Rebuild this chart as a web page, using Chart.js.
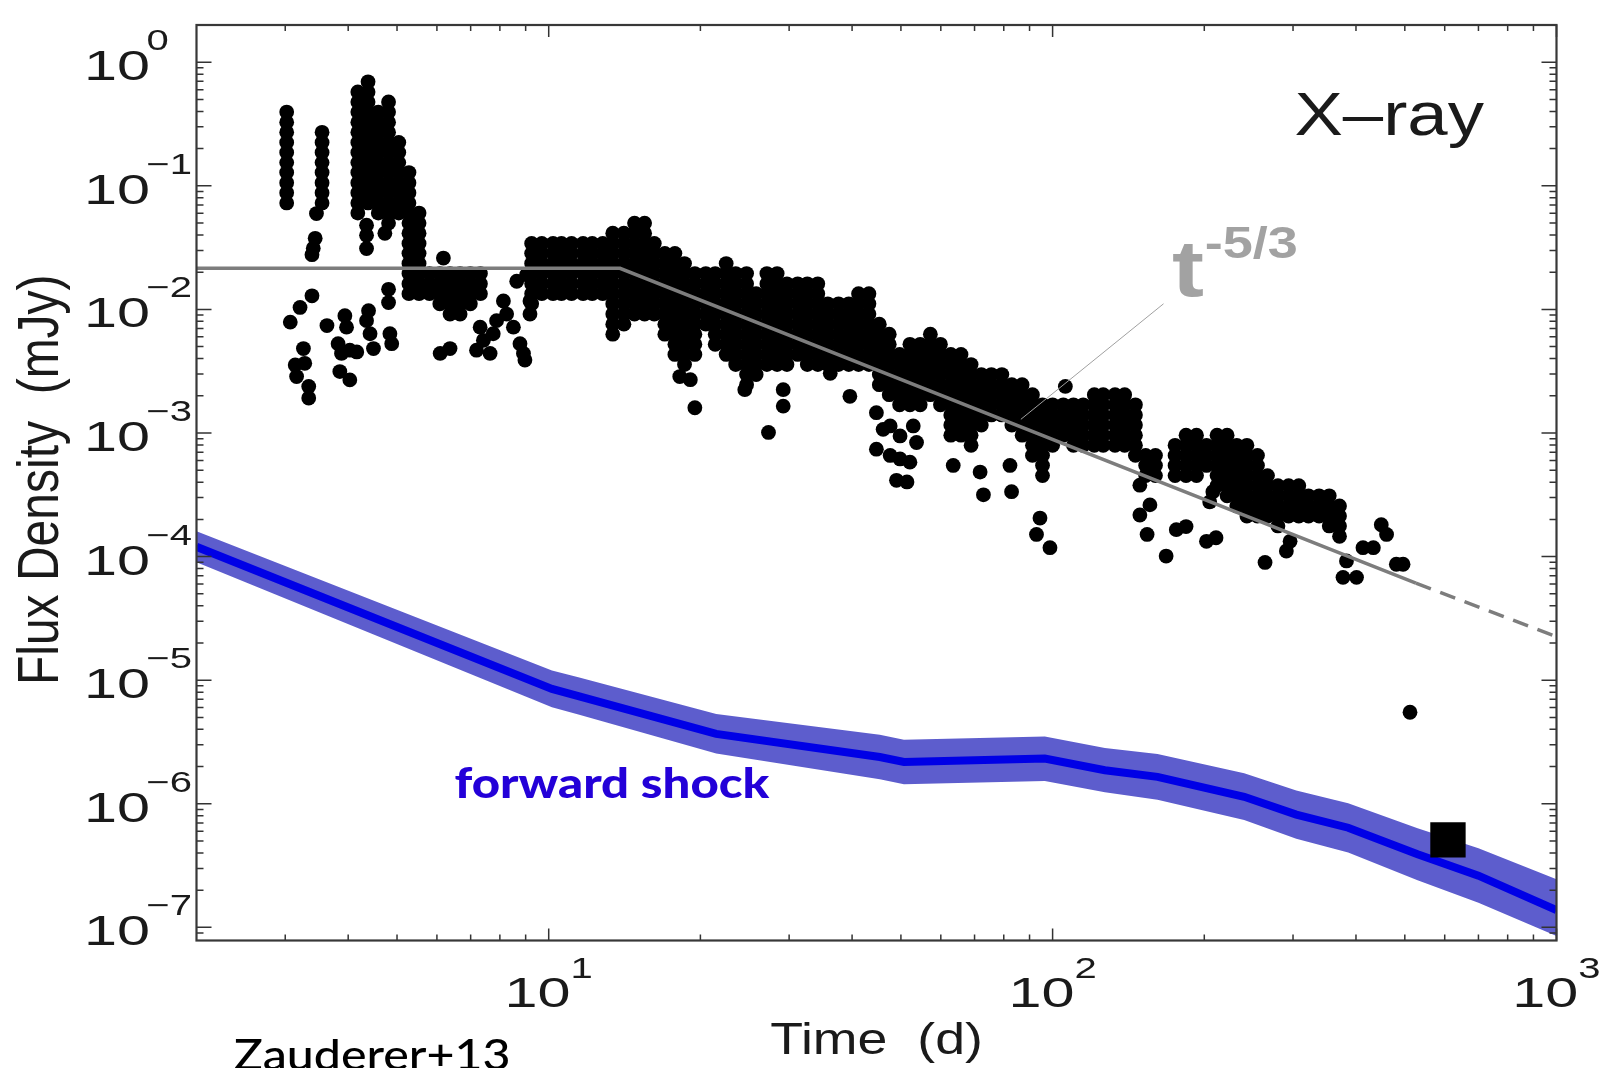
<!DOCTYPE html>
<html>
<head>
<meta charset="utf-8">
<script src="https://cdn.jsdelivr.net/npm/chart.js@4.4.1/dist/chart.umd.min.js"></script>
<style>
html,body{margin:0;padding:0;background:#fff;overflow:hidden}
canvas{display:block}
</style>
</head>
<body>
<canvas id="c" width="1603" height="1068" style="width:1603px;height:1068px"></canvas>
<script>
// ---------------- data ----------------
const xRange = [2, 1000];            // Time (d)
const yRange = [7.83e-8, 2];         // Flux density (mJy)

const xTickValues = [10, 100, 1000];
const xTickExponents = ['1', '2', '3'];
const yTickValues = [1, 1e-1, 1e-2, 1e-3, 1e-4, 1e-5, 1e-6, 1e-7];
const yTickExponents = ['0', '\u22121', '\u22122', '\u22123', '\u22124', '\u22125', '\u22126', '\u22127'];

// X-ray light curve: [time, [fluxes at that time]]
const xrayColumns = [
  [3.02, [0.395,0.327,0.271,0.224,0.186,0.154,0.128,0.106,0.0877,0.0727]],
  [3.55, [0.271,0.224,0.186,0.154,0.128,0.106,0.0877,0.0727]],
  [4.18, [0.575,0.477,0.395,0.327,0.271,0.224,0.186,0.154,0.128,0.106,0.0877,0.0727,0.0602]],
  [4.38, [0.694,0.575,0.477,0.395,0.327,0.271,0.224,0.186,0.154,0.128,0.106,0.0877,0.0727]],
  [4.59, [0.395,0.327,0.271,0.224,0.186,0.154,0.128,0.106,0.0877,0.0727,0.0602]],
  [4.81, [0.477,0.395,0.327,0.271,0.224,0.186,0.154,0.128,0.106,0.0877,0.0727,0.0602,0.0499]],
  [5.04, [0.224,0.186,0.154,0.128,0.106,0.0877,0.0727,0.0602]],
  [5.28, [0.128,0.106,0.0877,0.0727,0.0602,0.0499,0.0413,0.0342,0.0284,0.0235,0.0195,0.0161,0.0134]],
  [5.53, [0.0602,0.0499,0.0413,0.0342,0.0284,0.0235,0.0195,0.0161,0.0134]],
  [5.80, [0.0195,0.0161,0.0134]],
  [6.08, [0.0195,0.0161,0.0134,0.0111]],
  [6.37, [0.0195,0.0161,0.0134,0.0111,0.00917]],
  [6.67, [0.0195,0.0161,0.0134,0.0111,0.00917]],
  [6.99, [0.0195,0.0161,0.0134,0.0111]],
  [7.32, [0.0195,0.0161,0.0134]],
  [9.25, [0.0342,0.0284,0.0235,0.0195,0.0161,0.0134,0.0111]],
  [9.69, [0.0342,0.0284,0.0235,0.0195,0.0161,0.0134]],
  [10.2, [0.0342,0.0284,0.0235,0.0195,0.0161,0.0134]],
  [10.6, [0.0342,0.0284,0.0235,0.0195,0.0161,0.0134]],
  [11.1, [0.0342,0.0284,0.0235,0.0195,0.0161,0.0134]],
  [11.7, [0.0342,0.0284,0.0235,0.0195,0.0161,0.0134]],
  [12.2, [0.0342,0.0284,0.0235,0.0195,0.0161,0.0134]],
  [12.8, [0.0342,0.0284,0.0235,0.0195,0.0161,0.0134]],
  [13.4, [0.0413,0.0342,0.0284,0.0235,0.0195,0.0161,0.0134,0.0111,0.00917,0.0076,0.0063]],
  [14.1, [0.0413,0.0342,0.0284,0.0235,0.0195,0.0161,0.0134,0.0111,0.00917,0.0076]],
  [14.8, [0.0499,0.0413,0.0342,0.0284,0.0235,0.0195,0.0161,0.0134,0.0111,0.00917]],
  [15.5, [0.0499,0.0413,0.0342,0.0284,0.0235,0.0195,0.0161,0.0134,0.0111,0.00917]],
  [16.2, [0.0342,0.0284,0.0235,0.0195,0.0161,0.0134,0.0111,0.00917]],
  [17.0, [0.0284,0.0235,0.0195,0.0161,0.0134,0.0111,0.00917,0.0076,0.0063]],
  [17.8, [0.0284,0.0235,0.0195,0.0161,0.0134,0.0111,0.00917,0.0076,0.0063,0.00522,0.00432]],
  [18.6, [0.0235,0.0195,0.0161,0.0134,0.0111,0.00917,0.0076,0.0063,0.00522,0.00432,0.00358]],
  [19.5, [0.0195,0.0161,0.0134,0.0111,0.00917,0.0076,0.0063,0.00522,0.00432]],
  [20.5, [0.0195,0.0161,0.0134,0.0111,0.00917,0.0076]],
  [21.4, [0.0195,0.0161,0.0134,0.0111,0.00917,0.0076,0.0063,0.00522]],
  [22.5, [0.0235,0.0195,0.0161,0.0134,0.0111,0.00917,0.0076,0.0063,0.00522,0.00432]],
  [23.5, [0.0195,0.0161,0.0134,0.0111,0.00917,0.0076,0.0063,0.00522,0.00432,0.00358]],
  [24.7, [0.0195,0.0161,0.0134,0.0111,0.00917,0.0076,0.0063,0.00522,0.00432,0.00358,0.00297,0.00246]],
  [25.8, [0.0134,0.0111,0.00917,0.0076,0.0063,0.00522,0.00432,0.00358,0.00297]],
  [27.1, [0.0195,0.0161,0.0134,0.0111,0.00917,0.0076,0.0063,0.00522,0.00432,0.00358]],
  [28.4, [0.0195,0.0161,0.0134,0.0111,0.00917,0.0076,0.0063,0.00522,0.00432,0.00358]],
  [29.7, [0.0161,0.0134,0.0111,0.00917,0.0076,0.0063,0.00522,0.00432,0.00358]],
  [31.2, [0.0161,0.0134,0.0111,0.00917,0.0076,0.0063,0.00522,0.00432]],
  [32.6, [0.0161,0.0134,0.0111,0.00917,0.0076,0.0063,0.00522,0.00432,0.00358]],
  [34.2, [0.0161,0.0134,0.0111,0.00917,0.0076,0.0063,0.00522,0.00432,0.00358]],
  [35.8, [0.0111,0.00917,0.0076,0.0063,0.00522,0.00432,0.00358]],
  [37.6, [0.0111,0.00917,0.0076,0.0063,0.00522,0.00432,0.00358]],
  [39.4, [0.0111,0.00917,0.0076,0.0063,0.00522,0.00432,0.00358]],
  [41.2, [0.0134,0.0111,0.00917,0.0076,0.0063,0.00522,0.00432,0.00358]],
  [43.2, [0.0134,0.0111,0.00917,0.0076,0.0063,0.00522,0.00432,0.00358]],
  [45.3, [0.0076,0.0063,0.00522,0.00432,0.00358,0.00297,0.00246]],
  [47.4, [0.0063,0.00522,0.00432,0.00358,0.00297,0.00246,0.00204]],
  [49.7, [0.00432,0.00358,0.00297,0.00246,0.00204,0.00169]],
  [52.1, [0.00522,0.00432,0.00358,0.00297,0.00246,0.00204,0.00169]],
  [54.6, [0.00522,0.00432,0.00358,0.00297,0.00246,0.00204,0.00169]],
  [57.2, [0.0063,0.00522,0.00432,0.00358,0.00297,0.00246,0.00204]],
  [59.9, [0.00522,0.00432,0.00358,0.00297,0.00246,0.00204,0.00169]],
  [62.8, [0.00432,0.00358,0.00297,0.00246,0.00204,0.00169,0.0014,0.00116,0.00096]],
  [65.8, [0.00432,0.00358,0.00297,0.00246,0.00204,0.00169,0.0014,0.00116,0.00096]],
  [68.9, [0.00358,0.00297,0.00246,0.00204,0.00169,0.0014,0.00116,0.00096,0.000795]],
  [72.2, [0.00297,0.00246,0.00204,0.00169,0.0014,0.00116]],
  [75.6, [0.00297,0.00246,0.00204,0.00169,0.0014]],
  [79.3, [0.00297,0.00246,0.00204,0.00169,0.0014]],
  [83.0, [0.00246,0.00204,0.00169,0.0014,0.00116]],
  [87.0, [0.00246,0.00204,0.00169,0.0014,0.00116,0.00096]],
  [91.2, [0.00204,0.00169,0.0014,0.00116,0.00096,0.000795,0.000659]],
  [95.5, [0.00169,0.0014,0.00116,0.00096,0.000795,0.000659,0.000546,0.000452]],
  [100, [0.00169,0.0014,0.00116,0.00096,0.000795]],
  [105, [0.00169,0.0014,0.00116,0.00096]],
  [110, [0.00169,0.0014,0.00116,0.00096,0.000795]],
  [115, [0.00169,0.0014,0.00116,0.00096,0.000795]],
  [121, [0.00204,0.00169,0.0014,0.00116,0.00096,0.000795]],
  [126, [0.00204,0.00169,0.0014,0.00116,0.00096,0.000795]],
  [133, [0.00204,0.00169,0.0014,0.00116,0.00096,0.000795]],
  [139, [0.00204,0.00169,0.0014,0.00116,0.00096,0.000795]],
  [146, [0.00169,0.0014,0.00116,0.00096,0.000795,0.000659]],
  [153, [0.000659,0.000546,0.000452]],
  [160, [0.000659,0.000546,0.000452]],
  [175, [0.000795,0.000659,0.000546,0.000452]],
  [184, [0.00096,0.000795,0.000659,0.000546,0.000452]],
  [193, [0.00096,0.000795,0.000659,0.000546,0.000452]],
  [202, [0.000795,0.000659,0.000546]],
  [212, [0.00096,0.000795,0.000659,0.000546,0.000452,0.000375]],
  [222, [0.00096,0.000795,0.000659,0.000546,0.000452,0.000375,0.00031]],
  [232, [0.000795,0.000659,0.000546,0.000452,0.000375,0.00031,0.000257]],
  [243, [0.000795,0.000659,0.000546,0.000452,0.000375,0.00031,0.000257,0.000213]],
  [255, [0.000659,0.000546,0.000452,0.000375,0.00031,0.000257,0.000213]],
  [267, [0.000452,0.000375,0.00031,0.000257,0.000213]],
  [280, [0.000375,0.00031,0.000257,0.000213,0.000177]],
  [294, [0.000375,0.00031,0.000257,0.000213]],
  [308, [0.000375,0.00031,0.000257,0.000213]],
  [322, [0.00031,0.000257,0.000213]],
  [338, [0.00031,0.000257,0.000213]],
  [354, [0.00031,0.000257,0.000213,0.000177]],
  [371, [0.000257,0.000213,0.000177,0.000146]]
];

// X-ray isolated points: [time, flux]
const xraySingles = [
  [3.07,0.00789],[3.21,0.01037],[3.39,0.01287],[3.14,0.00355],[3.28,0.00366],[3.16,0.00286],
  [3.26,0.00482],[3.34,0.00238],[3.34,0.00192],[3.63,0.0074],[3.94,0.0089],[3.97,0.00718],
  [3.82,0.00528],[4.03,0.00468],[3.88,0.0044],[4.16,0.00453],[3.85,0.00314],[4.03,0.00269],
  [4.39,0.00976],[4.35,0.00811],[4.42,0.00635],[4.49,0.00482],[4.81,0.01454],[4.81,0.01136],
  [4.84,0.00635],[4.88,0.00528],[3.46,0.0596],[3.44,0.0376],[3.41,0.0313],[3.39,0.0277],
  [4.35,0.048],[4.35,0.0398],[4.35,0.0311],[4.73,0.0413],[6.18,0.026],[6.09,0.0044],
  [6.37,0.00482],[7.31,0.00718],[7.42,0.00562],[7.76,0.00635],[7.19,0.00468],[7.65,0.0044],
  [8.13,0.0117],[8.25,0.00917],[7.88,0.00811],[8.51,0.00718],[8.77,0.00528],[8.91,0.0044],
  [8.97,0.00389],[8.64,0.0169],[9.04,0.0191],[9.18,0.0117],[9.18,0.00917],
  [19.5,0.0016],[19.1,0.0027],[27.3,0.00101],[29.2,0.00224],[29.2,0.00165],[39.6,0.00198],
  [24.5,0.00224],[44.7,0.00146],[46.1,0.00107],[44.7,0.00074],[47.6,0.000658],[49.8,0.000617],
  [52.1,0.000581],[49.0,0.000414],[51.4,0.000402],[47.6,0.00114],[49.8,0.000947],[52.9,0.00114],
  [53.7,0.000838],[18.2,0.00286],[36.2,0.00304],
  [63.5,0.000546],[71.8,0.000483],[72.9,0.000316],[82.3,0.000546],[82.9,0.000335],[94.4,0.000205],
  [92.9,0.000151],[98.8,0.000118],[106,0.00238],[149,0.000378],[154,0.000151],[149,0.000217],
  [156,0.000262],[168,0.000101],[176,0.000165],[184,0.000175],[202,0.000133],[211,0.000142],
  [208,0.000335],[205,0.000277],[264,8.97e-5],[291,0.000111],[296,0.000133],[383,9.22e-5],
  [377,6.79e-5],[401,6.79e-5],[413,0.000118],[433,0.000118],[449,0.000181],[460,0.000151],
  [481,8.67e-5],[496,8.67e-5],[512,5.5e-6]
];

// Late-time point (square)
const lateTime = [609];
const lateFlux = [5.1e-7];

// Model line: flat then decline, and its dashed extrapolation
const modelTimes = [2, 13.85, 526];
const modelFlux = [0.0215, 0.0215, 6.1e-5];
const extrapTimes = [526, 1000];
const extrapFlux = [6.1e-5, 2.25e-5];

// Leader line from the t^-5/3 label to the model
const leaderTimes = [86.5, 166];
const leaderFlux = [1.29e-3, 0.0111];

// Forward shock model (center and band)
const shockTimes = [2, 10.15, 11.5, 21.5, 45.4, 50.7, 96.5, 127, 161.5, 240, 304.5, 386, 530, 700, 1000];
const shockFlux  = [1.2e-4, 8.5e-6, 7.4e-6, 3.68e-6, 2.39e-6, 2.18e-6, 2.32e-6, 1.87e-6, 1.65e-6, 1.14e-6, 8.17e-7, 6.4e-7, 3.91e-7, 2.62e-7, 1.38e-7];
const shockUpper = [1.6e-4, 1.2e-5, 1.05e-5, 5.32e-6, 3.61e-6, 3.3e-6, 3.51e-6, 2.83e-6, 2.53e-6, 1.77e-6, 1.28e-6, 1.01e-6, 6.34e-7, 4.36e-7, 2.45e-7];
const shockLower = [9.0e-5, 6.03e-6, 5.25e-6, 2.55e-6, 1.58e-6, 1.44e-6, 1.53e-6, 1.24e-6, 1.08e-6, 7.38e-7, 5.21e-7, 4.04e-7, 2.41e-7, 1.58e-7, 8.5e-8];

// Text annotations anchored in data coordinates (time, flux)
const annotations = {
  xray:  { text: 'X\u2013ray', t: 302, f: 0.26 },
  tBase: { text: 't', t: 172.5, f: 0.0129 },
  tExp:  { text: '-5/3', t: 200.5, f: 0.026 },
  shock: { text: 'forward shock', t: 6.5, f: 1.11e-6 },
  credit:{ text: 'Zauderer+13', t: 2.37 }
};

// ---------------- chart ----------------
function pts(xs, ys) { return xs.map((x, i) => ({ x: x, y: ys[i] })); }
const xrayPoints = [];
xrayColumns.forEach(([t, fl]) => fl.forEach(f => xrayPoints.push({ x: t, y: f })));
xraySingles.forEach(([t, f]) => xrayPoints.push({ x: t, y: f }));

function sText(ctx, s, x, y, font, color, align, sx) {
  ctx.save();
  ctx.font = font; ctx.fillStyle = color; ctx.textAlign = align; ctx.textBaseline = 'alphabetic';
  ctx.translate(x, y); ctx.scale(sx, 1);
  ctx.fillText(s, 0, 0);
  ctx.restore();
}

const axesPlugin = {
  id: 'axesPlugin',
  afterDatasetsDraw(chart) {
    const { ctx, chartArea: a, scales: { x, y } } = chart;
    ctx.save();
    ctx.strokeStyle = '#333'; ctx.lineWidth = 1.5;
    ctx.beginPath();
    const xMin = x.min, xMax = x.max, yMin = y.min, yMax = y.max;
    for (let k = -1; k <= 3; k++) {
      for (let m = 1; m <= 9; m++) {
        const v = m * Math.pow(10, k);
        if (v <= xMin * 1.001 || v > xMax * 1.001) continue;
        const px = x.getPixelForValue(v);
        const len = (m === 1) ? 12 : 6;
        ctx.moveTo(px, a.bottom); ctx.lineTo(px, a.bottom - len);
        ctx.moveTo(px, a.top); ctx.lineTo(px, a.top + len);
      }
    }
    for (let k = -8; k <= 0; k++) {
      for (let m = 1; m <= 9; m++) {
        const v = m * Math.pow(10, k);
        if (v < yMin || v >= yMax * 0.999) continue;
        const py = y.getPixelForValue(v);
        if (a.bottom - py < 3) continue;
        const len = (m === 1) ? 15 : 7;
        ctx.moveTo(a.left, py); ctx.lineTo(a.left + len, py);
        ctx.moveTo(a.right, py); ctx.lineTo(a.right - len, py);
      }
    }
    ctx.stroke();
    ctx.lineWidth = 2.2; ctx.strokeStyle = '#383838';
    ctx.strokeRect(a.left, a.top, a.right - a.left, a.bottom - a.top);
    ctx.restore();
  },
  afterDraw(chart) {
    const { ctx, chartArea: a, scales: { x, y } } = chart;
    const base = '43px "Liberation Sans", Arial, sans-serif';
    const sup = '29px "Liberation Sans", Arial, sans-serif';
    const sx = 1.38;
    yTickValues.forEach((v, i) => {
      const py = y.getPixelForValue(v);
      sText(ctx, '10', a.left - 46.5, py + 18, base, '#1a1a1a', 'right', sx);
      sText(ctx, yTickExponents[i], a.left - 50, py - 12, sup, '#1a1a1a', 'left', sx);
    });
    xTickValues.forEach((v, i) => {
      const px = x.getPixelForValue(v);
      ctx.save(); ctx.font = base; const w1 = ctx.measureText('10').width * sx;
      ctx.font = sup; const w2 = ctx.measureText(xTickExponents[i]).width * sx; ctx.restore();
      const start = px - (w1 + w2) / 2;
      sText(ctx, '10', start, a.bottom + 66, base, '#1a1a1a', 'left', sx);
      sText(ctx, xTickExponents[i], start + w1, a.bottom + 37, sup, '#1a1a1a', 'left', sx);
    });
    sText(ctx, 'Time  (d)', (a.left + a.right) / 2, a.bottom + 113, '44px "Liberation Sans", Arial, sans-serif', '#1a1a1a', 'center', 1.22);
    ctx.save();
    ctx.translate(a.left - 138.5, (a.top + a.bottom) / 2 - 3);
    ctx.scale(1.2, 1);
    ctx.rotate(-Math.PI / 2);
    ctx.font = '48px "Liberation Sans", Arial, sans-serif';
    ctx.fillStyle = '#1a1a1a'; ctx.textAlign = 'center'; ctx.textBaseline = 'alphabetic';
    ctx.fillText('Flux Density  (mJy)', 0, 0);
    ctx.restore();
    const an = annotations;
    sText(ctx, an.xray.text, x.getPixelForValue(an.xray.t), y.getPixelForValue(an.xray.f),
      '62px "Liberation Sans", Arial, sans-serif', '#1a1a1a', 'left', 1.17);
    sText(ctx, an.tBase.text, x.getPixelForValue(an.tBase.t), y.getPixelForValue(an.tBase.f),
      'bold 80px "Liberation Sans", Arial, sans-serif', '#a2a2a2', 'left', 1.2);
    sText(ctx, an.tExp.text, x.getPixelForValue(an.tExp.t), y.getPixelForValue(an.tExp.f),
      'bold 45px "Liberation Sans", Arial, sans-serif', '#a2a2a2', 'left', 1.2);
    sText(ctx, an.shock.text, x.getPixelForValue(an.shock.t), y.getPixelForValue(an.shock.f),
      '900 42px Lato, "Open Sans", sans-serif', '#2300d8', 'left', 1.17);
    sText(ctx, an.credit.text, x.getPixelForValue(an.credit.t), chart.height + 2,
      '500 42px Lato, "Open Sans", sans-serif', '#000', 'left', 1.15);
  }
};

new Chart(document.getElementById('c'), {
  type: 'scatter',
  data: {
    datasets: [
      { type: 'line', data: pts(modelTimes, modelFlux), borderColor: '#7d7d7d', borderWidth: 3.5,
        pointRadius: 0, fill: false, order: 0 },
      { type: 'line', data: pts(extrapTimes, extrapFlux), borderColor: '#7d7d7d', borderWidth: 3.5,
        borderDash: [16, 10], pointRadius: 0, fill: false, order: 1 },
      { type: 'line', data: pts(leaderTimes, leaderFlux), borderColor: '#a0a0a0', borderWidth: 1,
        pointRadius: 0, fill: false, order: 2 },
      { type: 'scatter', data: pts(lateTime, lateFlux), pointStyle: 'rect', pointRadius: 25,
        backgroundColor: '#000', borderWidth: 0, pointBorderWidth: 0, order: 3 },
      { type: 'scatter', data: xrayPoints, pointRadius: 7.4, backgroundColor: '#000',
        borderWidth: 0, pointBorderWidth: 0, order: 4 },
      { type: 'line', data: pts(shockTimes, shockFlux), borderColor: '#0000e6', borderWidth: 8,
        pointRadius: 0, fill: false, order: 5 },
      { type: 'line', data: pts(shockTimes, shockUpper), borderColor: 'rgba(0,0,0,0)', borderWidth: 0,
        pointRadius: 0, fill: '+1', backgroundColor: 'rgb(93,93,205)', order: 6 },
      { type: 'line', data: pts(shockTimes, shockLower), borderColor: 'rgba(0,0,0,0)', borderWidth: 0,
        pointRadius: 0, fill: false, order: 7 }
    ]
  },
  options: {
    responsive: false,
    animation: false,
    devicePixelRatio: 1,
    events: [],
    layout: { padding: { left: 0, top: 14, right: 46.5, bottom: 0 } },
    plugins: { legend: { display: false }, tooltip: { enabled: false } },
    scales: {
      x: {
        type: 'logarithmic', min: xRange[0], max: xRange[1],
        ticks: { display: false }, grid: { display: false }, border: { display: false },
        afterFit(s) { s.height = 127.5; }
      },
      y: {
        type: 'logarithmic', min: yRange[0], max: yRange[1],
        ticks: { display: false }, grid: { display: false }, border: { display: false },
        afterFit(s) { s.width = 196.5; }
      }
    }
  },
  plugins: [axesPlugin]
});
</script>
</body>
</html>
